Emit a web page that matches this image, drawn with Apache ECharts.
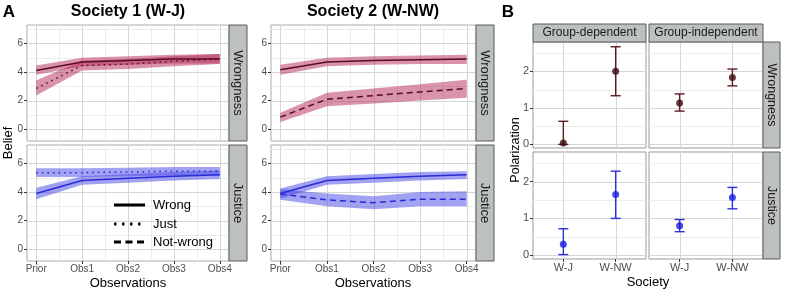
<!DOCTYPE html>
<html lang="en">
<head>
<meta charset="UTF-8">
<title>Belief and polarization</title>
<script src="https://cdn.jsdelivr.net/npm/echarts@6/dist/echarts.min.js"></script>
<style>
  html,body{margin:0;padding:0;background:#fff;}
  #chart{width:786px;height:298px;}
</style>
</head>
<body>
<div id="chart"></div>
<script>
// ---- data: panel A (belief over observations) ----
var obsLabels = ['Prior', 'Obs1', 'Obs2', 'Obs3', 'Obs4'];
var beliefTicks = [0, 2, 4, 6];

// Society 1 (W-J), Wrongness facet
var s1W_wrong   = [4.1, 4.7, 4.8, 4.9, 4.9];
var s1W_wrongLo = [3.8, 4.4, 4.5, 4.6, 4.6];
var s1W_wrongHi = [4.45, 5.0, 5.1, 5.2, 5.25];
var s1W_just    = [2.85, 4.45, 4.55, 4.75, 4.9];
var s1W_justLo  = [2.35, 4.1, 4.2, 4.4, 4.55];
var s1W_justHi  = [3.4, 4.8, 4.9, 5.1, 5.25];
// Society 1 (W-J), Justice facet
var s1J_wrong   = [3.9, 4.8, 4.95, 5.1, 5.2];
var s1J_wrongLo = [3.5, 4.5, 4.65, 4.8, 4.9];
var s1J_wrongHi = [4.3, 5.1, 5.25, 5.4, 5.5];
var s1J_just    = [5.35, 5.35, 5.4, 5.45, 5.45];
var s1J_justLo  = [5.05, 5.05, 5.1, 5.15, 5.15];
var s1J_justHi  = [5.65, 5.65, 5.7, 5.75, 5.75];
// Society 2 (W-NW), Wrongness facet
var s2W_wrong   = [4.15, 4.7, 4.8, 4.85, 4.9];
var s2W_wrongLo = [3.8, 4.4, 4.5, 4.55, 4.55];
var s2W_wrongHi = [4.5, 5.0, 5.1, 5.15, 5.2];
var s2W_not     = [0.85, 2.1, 2.35, 2.6, 2.85];
var s2W_notLo   = [0.5, 1.6, 1.8, 2.0, 2.2];
var s2W_notHi   = [1.15, 2.55, 2.85, 3.15, 3.45];
// Society 2 (W-NW), Justice facet
var s2J_wrong   = [3.9, 4.8, 4.95, 5.1, 5.2];
var s2J_wrongLo = [3.55, 4.5, 4.65, 4.8, 4.9];
var s2J_wrongHi = [4.25, 5.1, 5.25, 5.4, 5.45];
var s2J_not     = [3.85, 3.45, 3.25, 3.5, 3.5];
var s2J_notLo   = [3.45, 3.0, 2.8, 3.0, 3.0];
var s2J_notHi   = [4.2, 3.9, 3.7, 4.0, 4.05];

// ---- data: panel B (polarization by society) ----
var societies = ['W-J', 'W-NW'];
var polTicks = [0, 1, 2];
var depWrongMean = [0.04, 2.0],  depWrongLo = [0.0, 1.33],  depWrongHi = [0.63, 2.67];
var indWrongMean = [1.13, 1.83], indWrongLo = [0.91, 1.6],  indWrongHi = [1.38, 2.06];
var depJustMean  = [0.3, 1.65],  depJustLo  = [0.02, 1.0], depJustHi  = [0.72, 2.28];
var indJustMean  = [0.8, 1.57],  indJustLo  = [0.64, 1.26], indJustHi  = [0.97, 1.84];

var W_LINE = '#5a0c24', W_BAND = 'rgba(180,40,90,0.5)';
var J_LINE = '#2a2ad6', J_BAND = 'rgba(70,70,232,0.5)';
var W_PT = '#3f0a12', W_BAR = '#5e1a20';
var J_PT = '#1c1ce0', J_BAR = '#3030d8';
var FONT = 'Liberation Sans';
var GRID_MAJOR = '#d6d6d6', GRID_MINOR = '#ececec';

var chart = echarts.init(document.getElementById('chart'), null, {renderer: 'canvas'});

// panel boxes [left, top, width, height]
var panels = [
  {box: [27, 25, 202, 116],  kind: 'A', xLab: false, yLab: true},
  {box: [27, 145, 202, 116], kind: 'A', xLab: true,  yLab: true},
  {box: [271, 25, 205, 116], kind: 'A', xLab: false, yLab: true},
  {box: [271, 145, 205, 116],kind: 'A', xLab: true,  yLab: true},
  {box: [533, 42, 113, 106], kind: 'B', xLab: false, yLab: true},
  {box: [649, 42, 114, 106], kind: 'B', xLab: false, yLab: false},
  {box: [533, 152, 113, 107],kind: 'B', xLab: true,  yLab: true},
  {box: [649, 152, 114, 107],kind: 'B', xLab: true,  yLab: false}
];

var grid = [], xAxis = [], yAxis = [], series = [];

panels.forEach(function (p, g) {
  var a = p.kind === 'A';
  grid.push({
    left: p.box[0], top: p.box[1], width: p.box[2], height: p.box[3],
    show: true, borderColor: a ? '#ababab' : '#999', borderWidth: 1,
    containLabel: false, outerBoundsMode: 'none'
  });
  p.xr = a ? [-0.2, 4.2] : [-0.58, 1.58];
  p.yr = a ? [-0.82, 7.28] : [-0.1, 2.8];
  p.xMajor = a ? [0, 1, 2, 3, 4] : [0, 1];
  p.xMinor = a ? [0.5, 1.5, 2.5, 3.5] : [];
  p.yMajor = a ? beliefTicks : polTicks;
  p.yMinor = a ? [1, 3, 5, 7] : [0.5, 1.5, 2.5];
  var xNames = a ? obsLabels : societies;
  var fs = a ? 10 : 11;

  xAxis.push({
    gridIndex: g, type: 'value', min: p.xr[0], max: p.xr[1], position: 'bottom',
    axisLine: {show: false, onZero: false},
    axisTick: {show: p.xLab, customValues: p.xMajor, length: 3, lineStyle: {color: '#333'}},
    axisLabel: {show: p.xLab, customValues: p.xMajor, margin: 3, color: '#4d4d4d', fontSize: fs,
      fontFamily: FONT, formatter: function (v) { return xNames[Math.round(v)]; }},
    splitLine: {show: false}
  });
  yAxis.push({
    gridIndex: g, type: 'value', min: p.yr[0], max: p.yr[1], position: 'left',
    axisLine: {show: false, onZero: false},
    axisTick: {show: p.yLab, customValues: p.yMajor, length: 3, lineStyle: {color: '#333'}},
    axisLabel: {show: p.yLab, customValues: p.yMajor, margin: 4, color: '#4d4d4d', fontSize: fs, fontFamily: FONT},
    splitLine: {show: false}
  });
});

// panel gridlines, placed through the panel's own axes
function gridLines(g) {
  var p = panels[g];
  return {
    type: 'custom', xAxisIndex: g, yAxisIndex: g, silent: true, z: 1, clip: false,
    data: [[p.xMajor[0], p.yMajor[0]]],
    renderItem: function (params, api) {
      var ch = [];
      function seg(v, vertical, color) {
        var s = vertical ? api.coord([v, p.yr[0]]) : api.coord([p.xr[0], v]);
        var e = vertical ? api.coord([v, p.yr[1]]) : api.coord([p.xr[1], v]);
        if (vertical) { s[0] = e[0] = Math.round(s[0]) + 0.5; }
        else { s[1] = e[1] = Math.round(s[1]) + 0.5; }
        ch.push({type: 'line', shape: {x1: s[0], y1: s[1], x2: e[0], y2: e[1]},
          style: {stroke: color, lineWidth: 1, fill: null}});
      }
      p.xMinor.forEach(function (v) { seg(v, true, GRID_MINOR); });
      p.yMinor.forEach(function (v) { seg(v, false, GRID_MINOR); });
      p.xMajor.forEach(function (v) { seg(v, true, GRID_MAJOR); });
      p.yMajor.forEach(function (v) { seg(v, false, GRID_MAJOR); });
      return {type: 'group', children: ch};
    }
  };
}
panels.forEach(function (p, g) { series.push(gridLines(g)); });

function band(g, lo, hi, color) {
  return {
    type: 'custom', xAxisIndex: g, yAxisIndex: g, silent: true, z: 2,
    data: lo.map(function (v, i) { return [i, v, hi[i]]; }),
    encode: {x: 0, y: [1, 2]},
    renderItem: function (params, api) {
      if (params.dataIndex !== 0) return null;
      var pts = [];
      for (var i = 0; i < hi.length; i++) pts.push(api.coord([i, hi[i]]));
      for (var j = lo.length - 1; j >= 0; j--) pts.push(api.coord([j, lo[j]]));
      return {type: 'polygon', shape: {points: pts}, style: {fill: color}};
    }
  };
}
function line(g, vals, color, dash) {
  return {
    type: 'line', xAxisIndex: g, yAxisIndex: g, z: 3, silent: true,
    symbol: 'none', data: vals.map(function (v, i) { return [i, v]; }),
    lineStyle: {color: color, width: 1.5, type: dash}
  };
}
var DOT = [1.6, 4], DASH = [6, 4];

series.push(band(0, s1W_wrongLo, s1W_wrongHi, W_BAND), band(0, s1W_justLo, s1W_justHi, W_BAND),
  line(0, s1W_wrong, W_LINE, 'solid'), line(0, s1W_just, W_LINE, DOT));
series.push(band(1, s1J_wrongLo, s1J_wrongHi, J_BAND), band(1, s1J_justLo, s1J_justHi, J_BAND),
  line(1, s1J_wrong, J_LINE, 'solid'), line(1, s1J_just, J_LINE, DOT));
series.push(band(2, s2W_wrongLo, s2W_wrongHi, W_BAND), band(2, s2W_notLo, s2W_notHi, W_BAND),
  line(2, s2W_wrong, W_LINE, 'solid'), line(2, s2W_not, W_LINE, DASH));
series.push(band(3, s2J_wrongLo, s2J_wrongHi, J_BAND), band(3, s2J_notLo, s2J_notHi, J_BAND),
  line(3, s2J_wrong, J_LINE, 'solid'), line(3, s2J_not, J_LINE, DASH));

function errbar(g, mean, lo, hi, bar, pt) {
  series.push({
    type: 'custom', xAxisIndex: g, yAxisIndex: g, silent: true, z: 3,
    data: mean.map(function (m, i) { return [i, m, lo[i], hi[i]]; }),
    encode: {x: 0, y: [1, 2, 3]},
    renderItem: function (params, api) {
      var x = api.value(0);
      var a = api.coord([x, api.value(2)]), b = api.coord([x, api.value(3)]);
      var w = 5, st = {stroke: bar, lineWidth: 1.4};
      return {type: 'group', children: [
        {type: 'line', shape: {x1: a[0], y1: a[1], x2: b[0], y2: b[1]}, style: st},
        {type: 'line', shape: {x1: a[0] - w, y1: a[1], x2: a[0] + w, y2: a[1]}, style: st},
        {type: 'line', shape: {x1: b[0] - w, y1: b[1], x2: b[0] + w, y2: b[1]}, style: st}
      ]};
    }
  });
  series.push({
    type: 'scatter', xAxisIndex: g, yAxisIndex: g, z: 4, silent: true,
    symbol: 'circle', symbolSize: 7,
    data: mean.map(function (m, i) { return [i, m]; }),
    itemStyle: {color: pt}
  });
}
errbar(4, depWrongMean, depWrongLo, depWrongHi, W_BAR, W_PT);
errbar(5, indWrongMean, indWrongLo, indWrongHi, W_BAR, W_PT);
errbar(6, depJustMean, depJustLo, depJustHi, J_BAR, J_PT);
errbar(7, indJustMean, indJustLo, indJustHi, J_BAR, J_PT);

// ---- strips, titles, axis names, legend ----
var gfx = [];
function txt(x, y, s, size, opts) {
  opts = opts || {};
  gfx.push({
    type: 'text', x: x, y: y, rotation: opts.rot || 0, z: 100,
    style: {text: s, x: 0, y: 0, fill: opts.color || '#111',
      fontSize: size, fontWeight: opts.bold ? 'bold' : 'normal', fontFamily: FONT,
      align: opts.align || 'center', verticalAlign: 'middle',
      textAlign: opts.align || 'center', textVerticalAlign: 'middle'}
  });
}
function strip(x, y, w, h, s, vertical, size) {
  gfx.push({type: 'rect', shape: {x: x, y: y, width: w, height: h}, z: 50,
    style: {fill: '#bcc0c0', stroke: '#5a5a5a', lineWidth: 1}});
  txt(x + w / 2, y + h / 2, s, size, {rot: vertical ? -Math.PI / 2 : 0, color: '#1a1a1a'});
}
strip(229, 25, 18, 116, 'Wrongness', true, 13);
strip(229, 145, 18, 116, 'Justice', true, 13);
strip(476, 25, 18, 116, 'Wrongness', true, 13);
strip(476, 145, 18, 116, 'Justice', true, 13);
strip(533, 24, 113, 18, 'Group-dependent', false, 12);
strip(649, 24, 114, 18, 'Group-independent', false, 12);
strip(763, 42, 17, 106, 'Wrongness', true, 12.5);
strip(763, 152, 17, 107, 'Justice', true, 12.5);

txt(9, 12, 'A', 17, {bold: true, color: '#000'});
txt(508, 12, 'B', 17, {bold: true, color: '#000'});
txt(128, 12, 'Society 1 (W-J)', 16, {bold: true, color: '#000'});
txt(373, 12, 'Society 2 (W-NW)', 16, {bold: true, color: '#000'});
txt(8, 143, 'Belief', 13, {rot: Math.PI / 2, color: '#000'});
txt(516, 150, 'Polarization', 12.5, {rot: Math.PI / 2, color: '#000'});
txt(128, 283, 'Observations', 13, {color: '#000'});
txt(373, 283, 'Observations', 13, {color: '#000'});
txt(648, 282, 'Society', 13, {color: '#000'});

// legend (line types)
var legendItems = [['Wrong', 'solid', 205], ['Just', [2.5, 5.5], 224], ['Not-wrong', [7, 4.5], 242]];
legendItems.forEach(function (it) {
  gfx.push({type: 'line', z: 100, shape: {x1: 114, y1: it[2], x2: 145, y2: it[2]},
    style: {stroke: '#000', lineWidth: 3, lineDash: it[1] === 'solid' ? null : it[1]}});
  txt(153, it[2], it[0], 13, {align: 'left', color: '#000'});
});

chart.setOption({
  animation: false,
  backgroundColor: '#fff',
  grid: grid, xAxis: xAxis, yAxis: yAxis, series: series,
  graphic: {elements: gfx}
});
</script>
</body>
</html>
